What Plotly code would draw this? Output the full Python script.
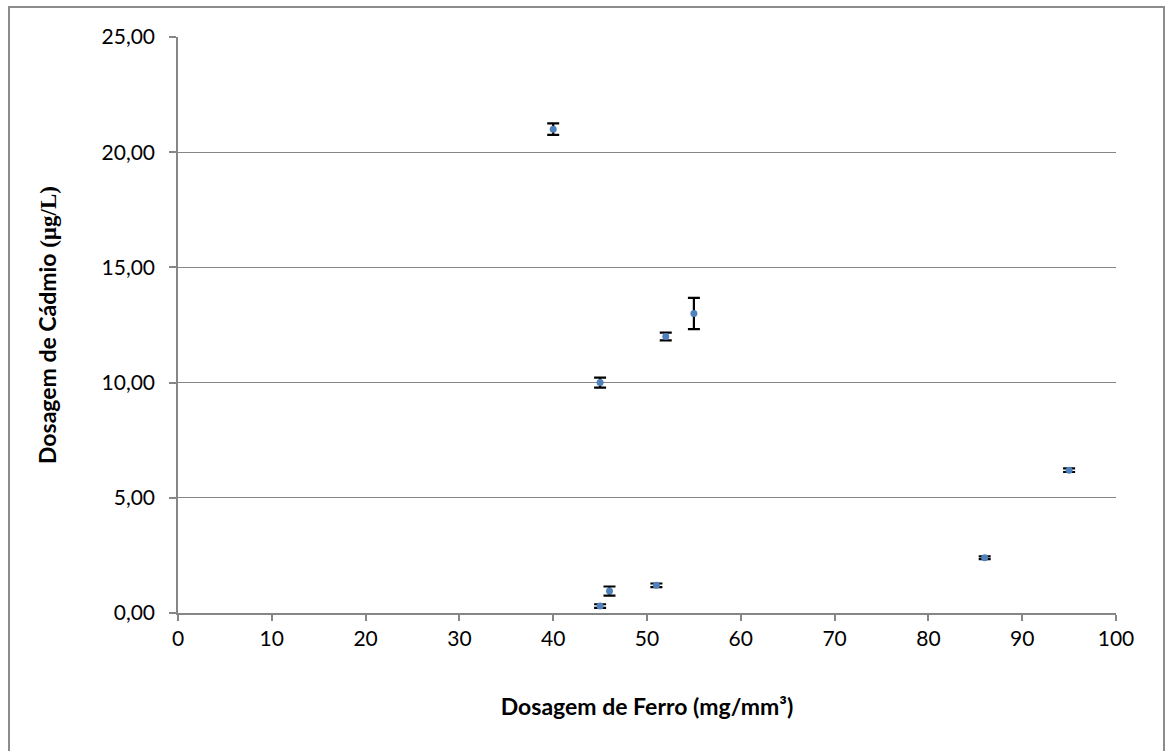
import plotly.graph_objects as go

ferro = [40, 45, 52, 55, 45, 46, 51, 86, 95]
cadmio = [21.0, 10.0, 12.0, 13.0, 0.3, 0.95, 1.2, 2.4, 6.2]
erro = [0.25, 0.22, 0.17, 0.68, 0.08, 0.2, 0.08, 0.06, 0.08]

y_ticks = [0, 5, 10, 15, 20, 25]
y_labels = ["0,00", "5,00", "10,00", "15,00", "20,00", "25,00"]
x_ticks = [0, 10, 20, 30, 40, 50, 60, 70, 80, 90, 100]

font = "Lato, 'Open Sans', sans-serif"

fig = go.Figure()
fig.add_trace(go.Scatter(
    x=ferro, y=cadmio, mode="markers",
    marker=dict(color="#4F81BD", size=7, symbol="circle"),
    error_y=dict(type="data", array=erro, visible=True, color="black",
                 thickness=2.2, width=6),
    showlegend=False,
))

W, H = 1165, 751
l, r, t, b = 178, 49, 37, 138
pw, ph = W - l - r, H - t - b

def px(x):
    return (x - l) / pw

def py(y):
    return (H - b - y) / ph

fig.add_shape(type="rect", xref="paper", yref="paper",
              x0=px(9), x1=px(1164), y0=py(760), y1=py(7),
              line=dict(color="#8c8c8c", width=2), layer="below")

fig.update_layout(
    width=W, height=H,
    margin=dict(l=l, r=r, t=t, b=b),
    paper_bgcolor="white", plot_bgcolor="white",
    font=dict(family=font, color="black", size=21),
    xaxis=dict(
        range=[0, 100], tickvals=x_ticks, showgrid=False,
        showline=True, linecolor="#868686", linewidth=1.5,
        ticks="outside", ticklen=6, tickcolor="#868686", tickwidth=1.5,
        ticklabelstandoff=0,
        zeroline=False, tickfont=dict(size=21, family=font),
        title=dict(text="<b>Dosagem de Ferro (mg/mm³)</b>", standoff=50,
                   font=dict(size=23, family=font)),
    ),
    yaxis=dict(
        range=[0, 25], tickvals=y_ticks, ticktext=y_labels,
        showgrid=True, gridcolor="#868686", gridwidth=1.2,
        showline=True, linecolor="#868686", linewidth=1.5,
        ticks="outside", ticklen=7, tickcolor="#868686", tickwidth=1.5,
        ticklabelstandoff=10,
        zeroline=False, tickfont=dict(size=21, family=font),
        title=dict(text="<b>Dosagem de Cádmio <span style='font-family:Liberation Serif'>(µg/L)</span></b>",
                   standoff=38, font=dict(size=23, family=font)),
    ),
)

fig.write_html("out.html")
